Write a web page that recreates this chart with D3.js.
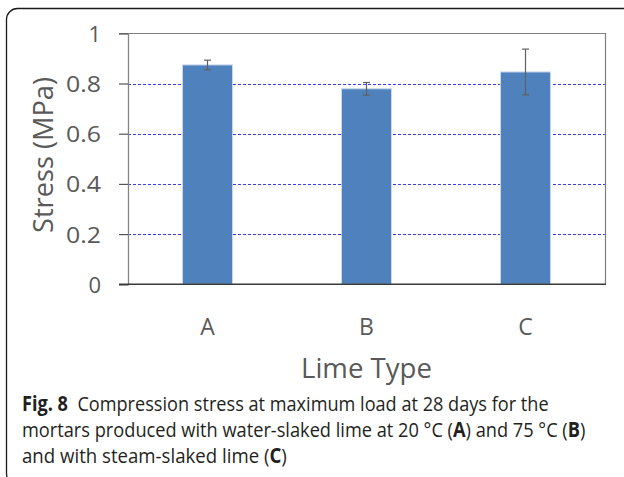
<!DOCTYPE html>
<html>
<head>
<meta charset="utf-8">
<script src="https://cdn.jsdelivr.net/npm/d3@7"></script>
<style>
  html, body { margin: 0; padding: 0; background: #fff; }
  svg { display: block; }
</style>
</head>
<body>
<div id="container"></div>
<script>
// chart data
const categories = ["A", "B", "C"];
const stress = [0.874, 0.779, 0.846];
const errors = [0.019, 0.025, 0.091];
const yTicks = [0, 0.2, 0.4, 0.6, 0.8, 1];
const gridTicks = [0.2, 0.4, 0.6, 0.8];

const width = 624;
const height = 477;
const margin = { top: 33.3, right: 19, bottom: 192.7, left: 128 };

const svg = d3.create("svg")
  .attr("width", width)
  .attr("height", height)
  .attr("viewBox", [0, 0, width, height]);

// attach now so text can be measured
document.getElementById("container").append(svg.node());

// outer rounded frame (only top and left visible in the picture)
svg.append("rect")
  .attr("x", 6.5).attr("y", 8.5)
  .attr("width", 660).attr("height", 476)
  .attr("rx", 11)
  .attr("fill", "none")
  .attr("stroke", "#1a1a1a")
  .attr("stroke-width", 1.3);

const x = d3.scaleBand()
  .domain(categories)
  .range([margin.left, width - margin.right])
  .paddingInner(0.6855)
  .paddingOuter(0.6855 / 2);

const y = d3.scaleLinear()
  .domain([0, 1])
  .range([height - margin.bottom, margin.top]);

// gridlines
svg.append("g")
  .selectAll("line")
  .data(gridTicks)
  .join("line")
  .attr("x1", margin.left)
  .attr("x2", width - margin.right)
  .attr("y1", d => Math.round(y(d)) + 0.5)
  .attr("y2", d => Math.round(y(d)) + 0.5)
  .attr("stroke", "#3b3bf0")
  .attr("stroke-width", 1)
  .attr("stroke-dasharray", "3,2");

// plot frame: top and right sides
svg.append("path")
  .attr("d", `M${margin.left},${Math.round(y(1)) + 0.5}H${width - margin.right + 0.5}V${y(0)}`)
  .attr("fill", "none")
  .attr("stroke", "#7f7f7f")
  .attr("stroke-width", 1.2);

// bars
svg.append("g")
  .selectAll("rect")
  .data(categories)
  .join("rect")
  .attr("x", d => x(d))
  .attr("y", (d, i) => y(stress[i]))
  .attr("width", x.bandwidth())
  .attr("height", (d, i) => y(0) - y(stress[i]))
  .attr("fill", "#4f81bd")
  .attr("stroke", "#c9d8ec")
  .attr("stroke-width", 1);

// error bars
const err = svg.append("g")
  .attr("stroke", "#606060")
  .attr("stroke-width", 1.2)
  .selectAll("g")
  .data(categories)
  .join("g");

err.append("line")
  .attr("x1", d => x(d) + x.bandwidth() / 2)
  .attr("x2", d => x(d) + x.bandwidth() / 2)
  .attr("y1", (d, i) => y(stress[i] + errors[i]))
  .attr("y2", (d, i) => y(stress[i] - errors[i]));

err.selectAll("line.cap")
  .data((d, i) => [{ c: d, v: stress[i] + errors[i] }, { c: d, v: stress[i] - errors[i] }])
  .join("line")
  .attr("class", "cap")
  .attr("x1", d => x(d.c) + x.bandwidth() / 2 - 3.5)
  .attr("x2", d => x(d.c) + x.bandwidth() / 2 + 3.5)
  .attr("y1", d => y(d.v))
  .attr("y2", d => y(d.v));

// y axis
const yAxis = svg.append("g")
  .attr("transform", `translate(${margin.left},0)`)
  .call(d3.axisLeft(y).tickValues(yTicks).tickSize(9).tickPadding(18).tickFormat(d3.format("~g")));

yAxis.select(".domain").attr("stroke", "#858585").attr("stroke-width", 1.3);
yAxis.selectAll(".tick line").attr("stroke", "#555").attr("stroke-width", 1.2);
yAxis.selectAll(".tick text")
  .attr("fill", "#595959")
  .attr("font-family", "'Open Sans', sans-serif")
  .attr("font-size", 22)
  .attr("dy", "0.36em")
  .each(function (d) {
    const t = d3.select(this);
    if (t.text().length > 1) t.attr("textLength", 35).attr("lengthAdjust", "spacingAndGlyphs");
  });

// x axis baseline
svg.append("line")
  .attr("x1", margin.left - 9)
  .attr("x2", width - margin.right + 1)
  .attr("y1", y(0))
  .attr("y2", y(0))
  .attr("stroke", "#3a3a3a")
  .attr("stroke-width", 1.4);

// category labels
svg.append("g")
  .selectAll("text")
  .data(categories)
  .join("text")
  .attr("x", d => x(d) + x.bandwidth() / 2)
  .attr("y", 335)
  .attr("text-anchor", "middle")
  .attr("fill", "#595959")
  .attr("font-family", "'Open Sans', sans-serif")
  .attr("font-size", 23)
  .text(d => d);

// axis titles
svg.append("text")
  .attr("x", (margin.left + width - margin.right) / 2)
  .attr("y", 378)
  .attr("text-anchor", "middle")
  .attr("fill", "#595959")
  .attr("font-family", "'Open Sans', sans-serif")
  .attr("font-size", 28)
  .attr("textLength", 131)
  .attr("lengthAdjust", "spacingAndGlyphs")
  .text("Lime Type");

svg.append("text")
  .attr("transform", `translate(53,155) rotate(-90)`)
  .attr("text-anchor", "middle")
  .attr("fill", "#595959")
  .attr("font-family", "'Open Sans', sans-serif")
  .attr("font-size", 28)
  .attr("textLength", 156)
  .attr("lengthAdjust", "spacingAndGlyphs")
  .text("Stress (MPa)");

// caption: condensed by a horizontal scale fitted to each line's width
const caption = [
  { y: 411, len: 527, parts: [["Fig.\u00a08", true], ["\u00a0\u00a0Compression stress at maximum load at 28 days for the", false]] },
  { y: 437, len: 564, parts: [["mortars produced with water-slaked lime at 20 \u00b0C (", false], ["A", true], [") and 75 \u00b0C (", false], ["B", true], [")", false]] },
  { y: 463, len: 265, parts: [["and with steam-slaked lime (", false], ["C", true], [")", false]] }
];

const cap = svg.append("g")
  .attr("fill", "#231f20")
  .attr("font-family", "'Open Sans', sans-serif")
  .attr("font-size", 20.5);

caption.forEach(line => {
  const t = cap.append("text").attr("x", 0).attr("y", 0);
  line.parts.forEach(([s, bold]) => {
    t.append("tspan")
      .attr("font-weight", bold ? 700 : 400)
      .text(s);
  });
  const w = t.node().getBBox().width;
  t.attr("transform", `translate(22,${line.y}) scale(${line.len / w},1)`);
});
</script>
</body>
</html>
